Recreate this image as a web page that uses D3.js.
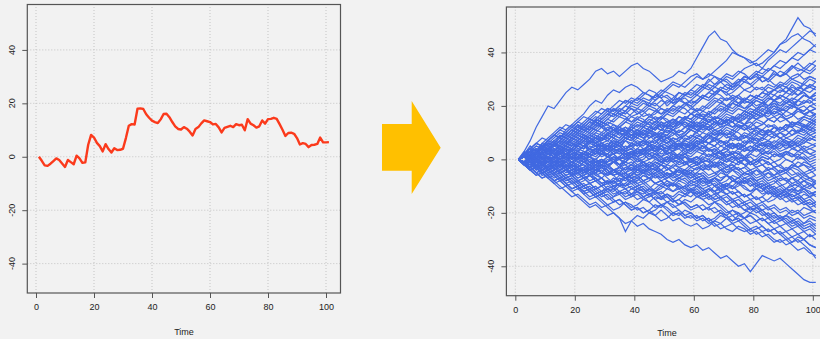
<html>
<head>
<script src="https://cdn.jsdelivr.net/npm/d3@7"></script>
<style>
  body { margin: 0; background: #f2f2f2; }
  svg text { font-family: "Liberation Sans", Arial, sans-serif; fill: #222; }
</style>
</head>
<body>
<svg id="chart"></svg>
<script>
// single path (left panel), t = 1..101
var redTime = d3.range(1, 102);
var redValues = [0,-1.5,-3.2,-3.4,-2.6,-1.6,-0.6,-1.2,-2.5,-3.8,
  -1.2,-2.0,-2.8,0.4,-0.6,-2.3,-2.1,4.5,8.2,7.2,
  5.2,4.0,2.0,4.7,2.9,1.6,3.2,2.5,2.6,3.0,
  7.0,11.6,12.2,12.1,18.0,18.1,17.9,15.9,14.6,13.5,
  13.0,12.6,14.0,16.0,16.1,14.8,13.0,11.4,10.4,10.2,
  11.1,10.5,9.4,8.0,10.4,11.1,12.5,13.6,13.3,13.0,
  12.1,12.3,11.0,9.1,10.8,11.2,11.6,11.1,12.2,11.8,
  12.0,9.9,14.1,12.4,11.8,10.9,11.4,13.6,12.4,14.1,
  14.2,14.6,14.2,12.2,10.1,7.8,8.9,9.0,8.6,7.0,
  4.6,5.1,4.8,3.6,4.4,4.5,4.8,7.2,5.4,5.4,5.5];

// many paths (right panel), read every 2nd step: t = 1,3,...,101
var blueTime = d3.range(1, 102, 2);
var blueWalks = [
[0,3,7,12,16,20,19,22,25,27,26,28,30,33,34,32,33,31,33,35,36,34,33,31,29,30,31,33,32,34,38,42,46,48,45,44,41,39,38,36,37,39,41,40,43,45,49,53,50,49,46],
[0,2,4,3,6,8,10,12,11,13,15,17,20,22,21,24,26,25,27,28,27,25,24,22,24,26,28,27,29,31,32,30,31,33,35,37,40,39,38,37,35,36,38,40,43,44,46,47,45,44,42],
[0,1,3,2,4,3,6,8,7,9,11,10,12,14,13,15,17,16,18,20,19,21,20,22,24,23,21,22,24,25,24,26,28,27,29,31,30,32,34,35,36,34,37,39,41,40,42,44,46,48,47],
[0,2,1,3,5,4,6,5,7,9,8,10,12,11,13,15,14,16,15,17,19,18,20,19,17,18,20,22,21,19,21,23,22,24,26,25,27,29,30,28,30,31,29,31,33,32,34,36,34,33,35],
[0,-1,1,3,5,7,9,8,11,13,12,14,16,18,17,19,18,20,22,21,23,22,20,21,19,18,20,22,24,23,25,27,26,28,30,29,27,28,26,27,29,31,30,28,27,29,31,32,30,31,30],
[0,2,4,6,5,7,6,4,5,7,9,8,10,12,14,13,15,17,16,14,15,17,19,18,20,22,21,23,25,24,26,28,27,25,26,24,25,27,29,28,26,27,25,26,28,27,25,24,26,28,27],
[0,1,-1,0,2,4,3,5,7,6,8,7,9,11,10,12,11,13,15,14,16,15,13,14,16,18,17,19,21,20,18,19,21,23,22,20,21,23,22,24,23,25,24,22,23,25,24,26,25,23,24],
[0,2,1,3,2,4,6,5,3,4,6,5,7,9,8,10,9,11,10,12,14,13,15,14,12,13,11,12,14,13,15,17,16,18,20,19,21,20,22,21,19,20,22,24,23,21,22,20,21,22,20],
[0,-2,-1,1,3,2,4,3,5,7,6,8,10,9,7,8,10,12,11,9,10,12,11,13,12,10,11,13,15,14,12,13,11,12,14,16,15,17,16,18,17,19,18,16,17,15,16,18,17,16,17],
[0,1,3,2,4,6,5,7,9,8,10,9,7,8,6,7,9,8,10,12,11,13,12,14,16,15,13,14,12,13,11,12,14,13,15,14,16,15,13,14,12,13,15,14,16,18,17,19,18,20,19],
[0,2,3,1,2,0,1,3,5,4,6,8,7,5,6,4,5,7,9,8,10,9,11,10,8,9,7,8,10,12,11,13,12,10,11,9,10,12,11,13,15,14,12,13,11,12,14,13,12,14,13],
[0,-1,1,0,-2,-1,1,3,2,4,3,5,4,6,5,3,4,6,8,7,9,8,6,7,5,6,8,7,9,11,10,8,9,7,8,10,9,11,13,12,10,11,9,10,8,9,11,10,9,11,10],
[0,1,0,2,1,3,2,0,1,-1,0,2,1,3,5,4,6,5,3,4,2,3,5,4,6,8,7,5,6,4,5,7,6,8,7,5,6,4,5,7,6,8,7,9,8,6,7,5,6,8,7],
[0,-1,-3,-2,0,-1,1,0,2,1,3,2,4,3,1,2,0,1,3,2,4,6,5,3,4,2,3,5,4,6,8,7,9,8,6,7,5,6,4,5,3,4,6,5,7,6,4,5,3,4,5],
[0,1,2,0,-1,1,0,-2,-1,1,0,2,1,-1,0,-2,-1,1,0,2,1,-1,0,2,1,3,2,0,1,-1,0,2,1,3,2,0,-1,1,0,-2,-1,1,0,2,1,3,2,1,3,2,1],
[0,-2,-1,-3,-2,0,-1,-3,-2,-4,-3,-1,-2,0,-1,1,0,-2,-1,1,0,-2,-3,-1,-2,0,-1,-3,-2,0,1,-1,0,-2,-1,-3,-2,-4,-3,-1,-2,0,-1,-3,-2,-4,-3,-1,-2,-3,-2],
[0,2,1,3,4,2,3,1,2,0,1,-1,0,-2,-1,1,2,0,1,3,2,4,3,5,4,2,3,1,2,4,3,5,4,2,3,1,2,0,1,-1,0,2,1,-1,0,2,1,3,2,0,1],
[0,-1,0,-2,-4,-3,-5,-4,-6,-5,-7,-6,-4,-5,-3,-4,-6,-5,-7,-6,-4,-5,-3,-4,-2,-3,-5,-4,-6,-5,-7,-6,-8,-7,-5,-6,-4,-5,-7,-6,-8,-7,-5,-6,-8,-7,-9,-8,-6,-7,-8],
[0,1,-1,-3,-2,-4,-3,-5,-7,-6,-8,-7,-9,-8,-10,-9,-7,-8,-6,-7,-9,-8,-10,-12,-11,-9,-10,-8,-9,-11,-10,-12,-11,-13,-12,-10,-11,-9,-10,-12,-11,-13,-12,-14,-13,-11,-12,-10,-11,-13,-12],
[0,-2,-4,-3,-5,-7,-6,-8,-10,-9,-11,-10,-12,-14,-13,-15,-14,-12,-13,-11,-12,-14,-13,-15,-17,-16,-18,-17,-15,-16,-14,-15,-17,-16,-18,-20,-19,-21,-20,-18,-19,-21,-20,-22,-21,-23,-25,-24,-26,-25,-27],
[0,-2,-4,-6,-5,-7,-9,-11,-10,-12,-14,-16,-18,-17,-19,-21,-20,-22,-24,-23,-25,-24,-26,-27,-28,-30,-31,-30,-32,-33,-32,-34,-33,-35,-37,-36,-38,-40,-39,-42,-39,-36,-37,-38,-37,-39,-41,-43,-45,-46,-46],
[0,-1,-3,-2,-4,-6,-5,-7,-9,-11,-10,-13,-15,-14,-16,-18,-20,-22,-27,-23,-21,-22,-20,-21,-19,-21,-23,-22,-24,-25,-24,-26,-25,-23,-24,-26,-27,-25,-26,-28,-27,-29,-28,-30,-31,-30,-32,-34,-33,-35,-36],
[0,-2,-3,-5,-7,-6,-8,-10,-12,-14,-13,-15,-17,-16,-18,-17,-19,-18,-16,-17,-19,-18,-20,-19,-17,-18,-20,-19,-21,-22,-21,-23,-22,-24,-26,-25,-24,-26,-27,-26,-28,-27,-29,-31,-30,-32,-31,-29,-30,-28,-30],
[0,-1,-3,-5,-4,-6,-8,-7,-9,-8,-10,-12,-11,-13,-12,-14,-16,-15,-17,-19,-18,-20,-19,-17,-18,-16,-17,-19,-21,-20,-22,-21,-23,-25,-24,-22,-23,-21,-22,-24,-23,-25,-27,-26,-28,-27,-29,-28,-30,-32,-33],
[0,-2,-1,-3,-5,-4,-6,-5,-7,-9,-8,-10,-9,-11,-10,-12,-11,-9,-10,-8,-9,-11,-13,-12,-14,-13,-15,-17,-16,-18,-17,-19,-18,-16,-17,-19,-21,-20,-22,-21,-23,-22,-24,-23,-25,-24,-26,-25,-27,-26,-28],
[0,1,-1,-2,-4,-3,-5,-4,-2,-3,-5,-4,-6,-5,-7,-9,-8,-10,-9,-11,-10,-12,-11,-9,-10,-8,-9,-11,-10,-12,-14,-13,-15,-14,-12,-13,-15,-17,-16,-18,-17,-19,-18,-20,-22,-21,-23,-22,-24,-23,-25],
[0,-1,1,0,-2,-1,-3,-2,-4,-6,-5,-7,-6,-4,-5,-3,-4,-6,-5,-7,-6,-8,-7,-9,-8,-10,-9,-11,-10,-8,-9,-7,-8,-10,-9,-11,-10,-12,-14,-13,-15,-14,-16,-15,-13,-14,-12,-13,-15,-14,-16],
[0,2,0,-1,1,0,-2,-1,-3,-2,0,-1,-3,-5,-4,-6,-5,-3,-4,-2,-3,-5,-4,-6,-5,-7,-6,-4,-5,-7,-6,-8,-10,-9,-11,-10,-8,-9,-7,-8,-10,-9,-11,-10,-12,-11,-9,-10,-8,-9,-11],
[0,-1,-2,0,-1,-3,-2,-4,-3,-1,-2,0,-1,-3,-2,-4,-6,-5,-7,-6,-4,-5,-3,-4,-2,-3,-5,-4,-6,-5,-3,-4,-2,-3,-1,-2,-4,-3,-5,-4,-6,-5,-7,-6,-4,-5,-3,-4,-6,-5,-4],
[0,1,3,2,0,1,-1,0,2,1,-1,0,-2,-1,-3,-2,-4,-3,-1,-2,0,-1,-3,-2,-4,-6,-5,-7,-6,-8,-7,-9,-8,-10,-12,-11,-13,-12,-14,-13,-11,-12,-10,-11,-13,-12,-14,-13,-15,-17,-16],
[0,-2,-1,1,0,2,1,3,2,4,6,5,7,6,4,5,3,4,2,3,1,2,0,1,-1,0,2,1,-1,0,-2,-1,-3,-2,0,-1,1,0,-2,-1,-3,-2,-4,-3,-5,-4,-6,-5,-7,-8,-9],
[0,1,2,4,3,5,7,6,8,7,9,8,6,7,5,6,4,5,3,4,6,5,7,6,8,7,5,6,4,5,7,6,8,10,9,11,10,8,9,7,8,6,7,5,6,4,5,7,6,8,7],
[0,-1,-3,-2,-4,-3,-1,-2,0,-1,1,3,2,4,3,5,4,6,8,7,9,11,10,12,11,13,15,14,16,15,17,16,14,15,13,14,16,15,17,19,18,20,19,21,20,22,21,19,20,18,19],
[0,2,4,3,5,4,2,3,1,2,0,1,-1,0,2,1,3,2,4,6,5,7,6,8,10,9,11,10,12,14,13,15,14,16,15,13,14,12,13,11,12,10,11,9,10,8,9,11,10,12,11],
[0,-1,0,-2,-1,1,0,2,4,3,5,4,6,5,3,4,2,3,5,4,2,3,1,2,0,1,-1,0,-2,-1,1,0,2,1,3,5,4,6,5,7,9,8,10,12,11,13,12,14,16,15,17],
[0,2,1,3,5,4,6,8,10,9,11,13,12,14,13,11,12,10,11,9,10,8,9,7,8,6,7,5,6,4,5,3,4,2,3,1,2,0,1,-1,0,-2,-1,-3,-2,0,-1,-3,-2,-4,-3],
[0,-2,-4,-3,-5,-4,-2,-3,-1,-2,0,2,1,3,2,4,6,5,7,9,8,10,12,11,13,12,14,16,15,17,19,18,20,22,21,23,22,24,26,25,27,26,28,27,29,28,30,29,28,30,29],
[0,1,-1,-3,-2,-4,-6,-5,-7,-6,-4,-5,-3,-4,-2,-3,-1,-2,0,1,-1,0,2,1,3,5,4,6,5,7,6,8,10,9,11,13,12,14,13,15,17,16,18,20,19,21,20,22,24,23,25],
[0,-1,-3,-5,-7,-6,-8,-7,-9,-11,-10,-12,-11,-13,-12,-10,-11,-9,-10,-8,-7,-9,-8,-6,-7,-5,-6,-4,-5,-3,-4,-2,-3,-1,-2,0,1,-1,0,2,1,3,2,4,6,5,7,6,8,7,9],
[0,2,4,6,8,7,9,11,10,12,14,13,15,14,12,13,11,10,12,11,9,10,8,9,7,6,8,7,5,6,4,5,3,4,2,1,3,2,0,1,-1,0,-2,-1,-3,-4,-2,-3,-5,-4,-6],
[0,-2,-1,-3,-2,-4,-3,-5,-4,-6,-8,-7,-9,-8,-10,-9,-11,-13,-12,-14,-13,-15,-14,-12,-13,-11,-12,-10,-11,-9,-10,-8,-9,-7,-8,-6,-7,-9,-8,-10,-9,-11,-10,-12,-11,-13,-15,-14,-16,-15,-17],
[0,1,3,5,4,6,5,7,9,11,10,12,11,13,15,17,16,18,17,19,18,16,17,15,16,14,15,13,14,12,13,11,12,14,13,15,14,16,18,17,19,21,20,22,24,23,25,27,26,28,27],
[0,-1,1,3,2,1,3,5,4,3,5,7,6,8,7,9,11,10,9,11,13,12,14,16,15,17,19,18,20,22,21,23,25,24,26,25,23,24,22,21,23,22,20,21,19,18,20,19,17,18,16],
[0,2,1,0,-2,-1,-3,-5,-4,-6,-5,-3,-4,-2,-3,-1,0,-2,-1,1,3,2,4,3,1,2,0,1,-1,-3,-2,-4,-3,-5,-4,-6,-8,-7,-9,-8,-10,-9,-11,-13,-12,-14,-13,-15,-17,-16,-18],
[0,1,0,2,4,3,2,4,6,5,7,6,4,5,3,2,4,3,1,0,-2,-1,-3,-4,-2,-3,-5,-4,-6,-7,-5,-6,-8,-7,-9,-10,-8,-9,-11,-12,-10,-11,-13,-12,-14,-13,-11,-12,-10,-11,-9],
[0,-1,-2,-4,-3,-5,-4,-6,-8,-7,-9,-11,-10,-12,-14,-13,-15,-17,-16,-18,-17,-15,-16,-14,-15,-13,-14,-12,-13,-11,-12,-14,-13,-15,-14,-16,-15,-17,-19,-18,-20,-19,-21,-23,-22,-24,-23,-25,-24,-22,-23],
[0,1,3,4,2,3,5,7,6,8,10,12,14,13,15,17,16,18,20,22,21,23,22,24,26,25,24,22,23,21,22,24,23,25,27,26,28,30,29,31,33,32,34,33,31,32,30,31,33,32,34],
[0,-1,1,2,0,-1,1,0,-2,-3,-1,-2,-4,-3,-5,-6,-4,-5,-3,-2,-4,-3,-5,-7,-6,-8,-10,-9,-11,-12,-10,-11,-13,-15,-14,-16,-18,-17,-19,-20,-18,-19,-21,-20,-22,-21,-19,-20,-18,-19,-20],
[0,2,3,1,2,4,3,5,4,2,3,1,2,4,3,5,7,6,8,7,9,8,10,9,7,8,6,7,9,8,10,12,11,13,15,14,16,15,17,16,18,17,15,16,14,15,13,14,16,15,14],
[0,-2,-3,-1,-2,0,1,-1,0,-2,-3,-5,-4,-6,-7,-5,-6,-8,-7,-9,-8,-6,-7,-5,-4,-6,-5,-3,-4,-2,-1,-3,-2,0,1,-1,0,2,1,3,4,2,3,1,2,0,-1,1,0,-2,-1],
[0,2,5,3,4,7,6,9,8,10,13,11,12,15,14,16,19,17,18,21,20,22,21,24,23,20,22,25,24,26,25,27,30,28,29,27,26,28,31,30,32,29,30,33,31,32,35,33,34,36,35],
[0,-1,2,1,3,0,1,4,2,3,5,4,7,6,4,5,8,7,9,8,6,7,10,8,9,12,11,9,10,13,12,14,13,11,12,15,14,16,18,17,15,16,19,17,18,20,19,22,21,23,22],
[0,3,1,2,5,4,3,6,5,8,7,9,8,6,7,10,9,11,10,13,12,14,13,11,14,12,13,16,15,17,16,15,18,17,19,18,21,20,22,24,23,25,24,26,27,25,28,26,29,31,30],
[0,1,-1,2,1,0,3,2,4,3,1,2,5,4,6,5,3,4,7,6,8,7,5,6,9,8,10,9,7,8,11,10,12,14,13,15,14,12,13,16,15,17,16,18,17,15,16,19,18,20,21],
[0,-2,0,-1,1,3,2,0,1,4,3,5,4,2,3,1,2,4,3,6,5,7,6,4,5,3,6,5,8,7,9,8,6,7,10,9,11,10,8,9,12,11,13,12,10,11,14,13,15,14,16],
[0,1,3,2,0,1,-1,1,0,2,4,3,1,2,5,4,6,5,3,4,2,3,6,5,7,6,4,5,3,4,7,6,8,7,5,6,9,8,10,9,7,8,11,10,12,11,9,10,13,12,14],
[0,2,1,-1,0,2,1,3,2,0,1,3,2,4,3,1,2,0,1,3,2,4,3,5,4,2,3,6,5,4,6,5,3,4,2,3,5,4,6,8,7,5,6,4,5,7,6,8,7,9,8],
[0,-1,0,2,1,-1,0,-2,-1,1,0,-1,1,0,2,1,-1,0,2,1,3,2,0,1,-1,0,2,1,3,2,4,3,1,2,0,1,3,2,4,3,5,4,2,3,1,2,4,3,5,4,3],
[0,1,0,-2,-1,-3,-2,0,-1,-3,-2,-4,-3,-1,-2,0,-1,-3,-2,-4,-3,-1,-2,0,-1,1,0,-2,-1,-3,-2,0,-1,1,0,2,1,-1,0,-2,-1,1,0,2,1,3,2,0,1,-1,0],
[0,-1,-3,-2,-4,-3,-1,-2,-4,-3,-5,-4,-6,-5,-3,-4,-6,-5,-7,-6,-4,-5,-7,-6,-8,-7,-5,-6,-4,-5,-7,-6,-8,-7,-9,-8,-6,-7,-5,-6,-8,-7,-9,-8,-10,-9,-7,-8,-10,-9,-11],
[0,2,0,1,-1,0,-2,-1,-3,-2,-4,-3,-5,-4,-2,-3,-1,-2,-4,-3,-5,-4,-6,-5,-7,-6,-8,-7,-5,-6,-8,-7,-9,-8,-10,-9,-11,-10,-8,-9,-11,-10,-12,-11,-13,-12,-14,-13,-11,-12,-14],
[0,-2,-1,-4,-3,-5,-4,-2,-3,-6,-5,-7,-6,-8,-7,-9,-8,-10,-9,-7,-8,-6,-7,-9,-8,-10,-9,-11,-10,-12,-11,-13,-12,-10,-11,-13,-12,-14,-13,-15,-14,-16,-15,-13,-14,-16,-15,-17,-16,-18,-17],
[0,1,-1,0,-2,-4,-3,-5,-4,-2,-3,-5,-4,-6,-5,-7,-9,-8,-10,-9,-11,-10,-12,-11,-9,-10,-12,-11,-13,-12,-14,-13,-11,-12,-10,-11,-13,-12,-14,-13,-15,-14,-12,-13,-15,-14,-16,-15,-13,-14,-12],
[0,-1,-2,-1,-3,-2,-4,-3,-5,-4,-6,-5,-3,-4,-2,-3,-5,-4,-6,-5,-3,-4,-2,-3,-1,-2,0,-1,1,0,-2,-1,-3,-2,-4,-3,-1,-2,0,-1,-3,-2,-4,-3,-5,-4,-2,-3,-1,-2,-4],
[0,1,3,2,4,3,1,2,0,1,3,2,4,3,5,4,2,3,1,2,4,3,5,4,6,5,3,4,2,3,5,4,6,5,7,6,4,5,3,4,6,5,7,6,8,7,5,6,4,5,6],
[0,2,4,3,6,5,7,9,8,10,9,11,10,12,14,13,11,12,10,11,13,12,14,13,15,17,16,18,17,19,18,16,17,15,16,18,17,19,18,20,22,21,23,22,20,21,23,22,24,23,25],
[0,1,2,4,3,5,4,2,3,5,7,6,8,7,9,8,6,7,9,8,10,9,11,10,8,9,11,10,12,11,13,12,14,16,15,17,16,14,15,17,16,18,17,19,18,16,17,15,16,18,17],
[0,-1,1,3,2,4,6,5,7,6,4,5,7,6,8,7,5,6,4,5,7,6,8,10,9,11,10,8,9,11,10,12,11,9,10,12,11,13,12,10,11,9,10,12,11,13,12,10,11,9,10],
[0,2,1,3,1,2,4,3,5,4,6,5,3,4,6,5,7,6,4,5,3,4,2,3,5,4,6,5,7,6,8,7,9,8,10,9,7,8,6,7,5,6,4,5,3,4,6,5,7,6,5],
[0,-1,1,0,2,1,-1,0,-2,-1,1,0,2,1,3,2,4,3,1,2,0,1,3,2,4,3,5,4,6,5,7,6,4,5,3,4,2,3,1,2,4,3,5,4,2,3,1,2,0,1,2],
[0,-2,-4,-3,-6,-5,-7,-6,-8,-7,-9,-8,-6,-7,-9,-8,-10,-9,-11,-10,-12,-11,-13,-12,-10,-11,-9,-10,-12,-11,-13,-12,-14,-13,-15,-14,-16,-15,-17,-16,-18,-17,-19,-18,-20,-19,-21,-20,-22,-21,-22],
[0,-1,-3,-2,-4,-6,-5,-7,-6,-8,-10,-9,-11,-10,-12,-11,-13,-12,-14,-13,-11,-12,-14,-13,-15,-14,-16,-15,-13,-14,-12,-13,-11,-12,-14,-13,-15,-14,-16,-15,-17,-16,-18,-17,-19,-18,-20,-19,-21,-20,-19],
[0,1,-1,-2,-1,-3,-5,-4,-6,-5,-7,-6,-8,-7,-9,-11,-10,-12,-11,-13,-12,-14,-13,-15,-14,-16,-15,-13,-14,-12,-13,-15,-14,-16,-15,-17,-16,-18,-17,-19,-18,-20,-22,-21,-23,-22,-24,-23,-25,-24,-26],
[0,2,1,-1,0,-2,-1,-3,-2,-4,-3,-5,-4,-2,-3,-5,-4,-6,-5,-7,-6,-8,-7,-9,-8,-10,-9,-7,-8,-10,-9,-11,-10,-12,-11,-9,-10,-8,-9,-7,-8,-10,-9,-11,-10,-12,-11,-13,-12,-14,-13],
[0,1,3,5,4,6,8,10,9,11,13,12,14,16,15,17,19,18,20,19,17,18,16,17,19,18,20,19,21,20,22,24,23,25,24,22,23,21,22,24,23,25,27,26,28,27,29,28,26,27,26],
[0,2,4,3,5,7,9,8,10,12,11,13,15,14,16,18,17,19,18,16,17,19,21,20,22,21,23,25,24,26,28,27,29,31,30,32,31,33,32,30,31,29,30,32,31,33,35,34,33,35,37],
[0,1,2,1,3,5,7,6,8,10,12,11,13,15,17,19,18,20,22,21,23,25,24,23,25,27,29,28,27,29,31,30,32,31,29,30,28,29,31,30,32,34,33,35,37,36,38,40,39,41,40],
[0,1,0,2,4,3,5,4,6,8,7,9,8,10,9,11,10,12,14,13,15,14,16,15,13,14,12,13,15,14,16,15,17,19,18,20,19,21,23,22,24,23,25,24,26,25,27,26,28,27,29],
[0,-1,1,0,2,4,3,5,4,6,5,7,9,8,10,9,11,10,8,9,11,10,12,11,13,12,14,13,15,17,16,18,17,19,21,20,22,21,19,20,22,21,23,22,24,23,21,22,24,23,22],
[0,2,1,3,2,4,3,1,2,4,3,5,7,6,8,7,9,8,10,9,11,10,8,9,11,10,12,14,13,12,14,13,15,14,12,13,15,14,16,15,17,16,18,17,19,18,20,19,17,18,19],
[0,-1,-2,-1,-3,-2,0,-1,1,0,2,1,3,2,4,3,5,4,2,3,1,2,4,3,5,4,6,5,7,9,8,10,9,11,10,8,9,7,8,10,9,11,10,12,11,13,12,14,13,11,12],
[0,1,0,2,1,3,2,4,3,1,2,0,1,-1,0,-2,-1,1,0,2,1,3,2,0,1,-1,0,2,1,-1,-2,0,-1,-3,-2,-4,-3,-1,-2,-4,-3,-5,-4,-6,-5,-3,-4,-6,-5,-7,-6],
[0,-2,-1,-3,-2,-4,-3,-5,-4,-2,-3,-1,-2,-4,-3,-5,-4,-6,-5,-3,-4,-2,-3,-1,-2,-4,-3,-5,-4,-6,-5,-3,-4,-2,-3,-5,-4,-6,-8,-7,-9,-8,-10,-9,-7,-8,-10,-9,-11,-10,-8],
[0,1,-1,-3,-2,-4,-3,-5,-7,-6,-8,-10,-9,-11,-10,-8,-9,-7,-8,-6,-7,-5,-6,-4,-5,-7,-6,-8,-7,-9,-8,-10,-9,-7,-8,-6,-7,-9,-8,-10,-9,-11,-13,-12,-14,-13,-15,-14,-16,-18,-20],
[0,-1,-3,-5,-4,-6,-8,-7,-9,-11,-10,-12,-14,-13,-15,-17,-16,-15,-17,-19,-18,-20,-19,-21,-23,-22,-20,-21,-19,-20,-22,-21,-23,-22,-20,-21,-19,-20,-22,-21,-23,-22,-24,-26,-25,-27,-26,-28,-27,-29,-28],
[0,-2,-4,-3,-5,-4,-6,-8,-7,-9,-8,-10,-12,-11,-13,-12,-14,-13,-15,-14,-12,-13,-11,-12,-14,-13,-15,-17,-16,-18,-17,-19,-18,-20,-19,-21,-23,-22,-24,-26,-25,-27,-26,-28,-27,-29,-31,-30,-32,-34,-37],
[0,1,2,0,-1,-3,-2,-4,-3,-5,-4,-6,-5,-7,-9,-8,-10,-9,-7,-8,-10,-9,-11,-13,-12,-14,-16,-15,-17,-19,-18,-17,-19,-18,-20,-22,-21,-23,-22,-20,-21,-23,-22,-24,-23,-21,-22,-24,-26,-25,-24],
[0,2,1,3,5,4,2,3,1,0,2,1,-1,0,-2,-1,1,0,-2,-1,-3,-2,-4,-3,-5,-4,-2,-3,-5,-4,-6,-5,-7,-6,-4,-5,-3,-4,-6,-5,-7,-6,-8,-7,-9,-11,-10,-12,-11,-13,-12],
[0,1,3,2,4,6,5,7,6,8,10,9,11,13,12,14,13,11,12,10,11,9,10,12,11,13,12,14,16,15,17,16,14,15,13,14,12,13,11,12,14,13,15,14,16,15,13,14,12,13,15],
[0,2,1,3,4,6,5,7,9,11,10,12,11,13,12,10,11,9,10,8,9,11,10,12,14,13,15,14,16,15,13,14,16,15,17,19,18,20,19,21,23,22,24,26,25,27,26,24,25,23,24],
[0,-1,0,-2,-1,1,0,2,1,3,2,0,1,-1,0,-2,-1,1,3,2,4,3,5,4,2,3,1,2,4,3,5,7,6,8,7,5,6,4,5,3,4,2,3,5,4,6,5,3,4,2,3],
[0,1,-1,0,-2,-1,-3,-2,0,-1,-3,-2,-4,-3,-1,-2,-4,-3,-5,-4,-6,-5,-3,-4,-6,-5,-7,-6,-4,-5,-3,-4,-6,-5,-7,-6,-8,-7,-5,-6,-4,-5,-3,-4,-6,-5,-7,-6,-8,-7,-9],
[0,2,3,2,4,3,5,7,6,5,7,9,8,10,12,11,13,12,14,16,15,14,16,18,17,19,18,20,19,17,18,20,19,21,23,22,24,23,21,22,20,21,19,20,18,19,21,20,22,21,23],
[0,-2,-1,0,-2,-3,-1,-2,-4,-5,-3,-4,-2,-3,-5,-6,-4,-5,-3,-4,-2,-3,-1,-2,0,-1,1,0,2,1,3,2,4,3,5,4,6,5,7,6,8,7,9,8,10,9,11,10,12,11,13],
[0,1,2,3,2,4,3,5,4,6,5,7,6,8,7,9,8,6,7,5,6,4,5,3,4,2,3,1,2,0,1,-1,0,-2,-1,-3,-2,-4,-3,-5,-4,-6,-5,-7,-6,-8,-7,-9,-8,-10,-9],
[0,-1,-2,-3,-2,-4,-3,-5,-4,-6,-5,-7,-6,-8,-7,-9,-8,-6,-7,-5,-6,-4,-5,-3,-4,-2,-3,-1,-2,0,-1,1,0,2,1,3,2,4,3,5,4,6,5,7,6,8,7,9,8,10,11],
[0,2,4,6,5,7,9,11,13,12,14,16,15,17,19,18,20,22,21,23,22,24,26,25,23,24,22,23,21,22,24,23,25,27,26,28,27,29,31,30,32,31,33,35,34,36,38,37,39,41,43],
[0,-2,-4,-6,-5,-7,-9,-8,-10,-12,-11,-13,-12,-14,-13,-11,-12,-10,-11,-13,-15,-14,-16,-18,-17,-19,-21,-20,-22,-21,-23,-22,-24,-23,-21,-22,-24,-23,-25,-27,-26,-25,-27,-26,-28,-30,-29,-31,-30,-32,-33],
[0,1,3,2,4,3,5,4,2,3,5,4,6,8,7,9,8,10,9,11,10,12,11,9,10,8,9,11,10,12,11,13,12,14,13,15,14,16,15,17,19,18,20,22,21,23,22,24,26,25,27],
[0,-1,1,0,-1,-3,-2,-1,-3,-2,-4,-3,-1,-2,0,-1,1,0,-1,1,3,2,4,3,5,4,3,5,4,6,5,7,6,5,7,6,8,7,9,8,10,9,11,10,12,11,13,12,11,13,15]
];

var xTicks = [0, 20, 40, 60, 80, 100];
var yTicks = [-40, -20, 0, 20, 40];

var width = 820, height = 339;
var svg = d3.select("#chart").attr("width", width).attr("height", height);
svg.append("rect").attr("width", width).attr("height", height).attr("fill", "#f2f2f2");

function panel(x, y, labelX, labelY) {
  var g = svg.append("g");
  var x0 = x.range()[0], x1 = x.range()[1];
  var y0 = y.range()[0], y1 = y.range()[1];

  // dotted grid
  g.selectAll(".gx").data(xTicks).enter().append("line")
    .attr("x1", d => x(d)).attr("x2", d => x(d))
    .attr("y1", y0).attr("y2", y1)
    .attr("stroke", "#c4c4c4").attr("stroke-dasharray", "1,2");
  g.selectAll(".gy").data(yTicks).enter().append("line")
    .attr("y1", d => y(d)).attr("y2", d => y(d))
    .attr("x1", x0).attr("x2", x1)
    .attr("stroke", "#c4c4c4").attr("stroke-dasharray", "1,2");

  var ax = g.append("g").attr("transform", "translate(0," + y0 + ")")
    .call(d3.axisBottom(x).tickValues(xTicks).tickSize(5).tickPadding(6).tickSizeOuter(0));
  ax.select(".domain").remove();
  ax.selectAll("line").attr("stroke", "#555");
  ax.selectAll("text").attr("font-size", "9px").attr("fill", "#222")
    .attr("font-family", "Liberation Sans, Arial, sans-serif");

  var ay = g.append("g").attr("transform", "translate(" + x0 + ",0)")
    .call(d3.axisLeft(y).tickValues(yTicks).tickSize(5).tickSizeOuter(0).tickFormat(""));
  ay.select(".domain").remove();
  ay.selectAll("line").attr("stroke", "#555");
  g.selectAll(".ylab").data(yTicks).enter().append("text")
    .attr("transform", d => "translate(" + (x0 - 12) + "," + y(d) + ") rotate(-90)")
    .attr("text-anchor", "middle")
    .attr("font-size", "9px")
    .text(d => d);

  g.append("text").attr("x", labelX).attr("y", labelY)
    .attr("text-anchor", "middle").attr("font-size", "9px").text("Time");

  return g;
}

// left panel
var xL = d3.scaleLinear().domain([-3, 105]).range([27.3, 340.5]);
var yL = d3.scaleLinear().domain([-51, 57]).range([293, 4.5]);
var gL = panel(xL, yL, 184, 335);
gL.append("path")
  .datum(redValues)
  .attr("fill", "none").attr("stroke", "#fb3a1c").attr("stroke-width", 2.4)
  .attr("stroke-linejoin", "round")
  .attr("d", d3.line().x((d, i) => xL(redTime[i])).y(d => yL(d)));
gL.append("rect").attr("x", 27.3).attr("y", 4.5).attr("width", 340.5 - 27.3).attr("height", 293 - 4.5)
  .attr("fill", "none").attr("stroke", "#555").attr("stroke-width", 1.2);

// right panel
var xR = d3.scaleLinear().domain([-3, 105]).range([506.4, 827.7]);
var yR = d3.scaleLinear().domain([-51, 57]).range([295.7, 7]);
var gR = panel(xR, yR, 667, 336);
gR.selectAll(".walk").data(blueWalks).enter().append("path")
  .attr("fill", "none").attr("stroke", "#4169e1").attr("stroke-width", 1.2)
  .attr("d", d3.line().x((d, i) => xR(blueTime[i])).y(d => yR(d)));
gR.append("rect").attr("x", 506.4).attr("y", 7).attr("width", 827.7 - 506.4).attr("height", 295.7 - 7)
  .attr("fill", "none").attr("stroke", "#555").attr("stroke-width", 1.2);

// arrow between panels
svg.append("polygon")
  .attr("points", [[382,124],[411.7,124],[411.7,101],[440.7,147.7],[411.7,194],[411.7,170.7],[382,170.7]].map(p => p.join(",")).join(" "))
  .attr("fill", "#ffc000");
</script>
</body>
</html>
